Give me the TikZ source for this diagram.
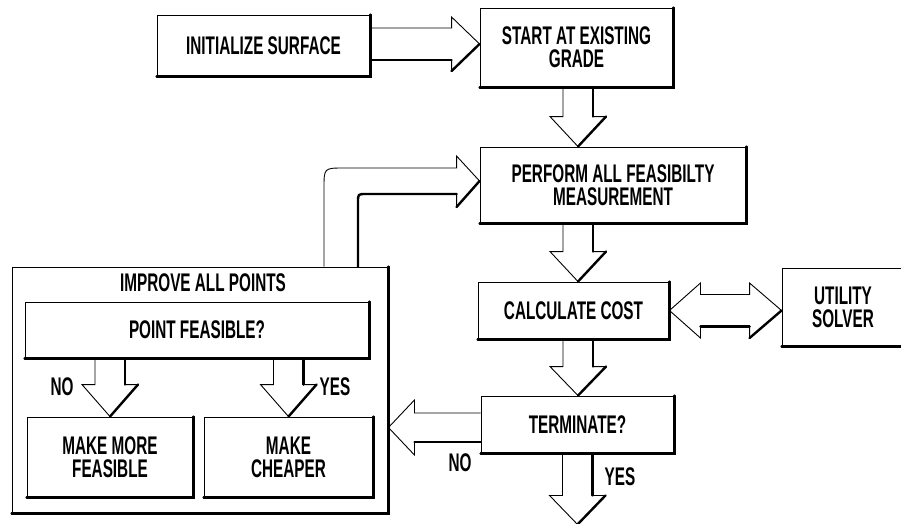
\documentclass[tikz,border=0pt]{standalone}
\usepackage{fontspec}
\setmainfont{Liberation Sans}[FakeStretch=0.6]
\usetikzlibrary{calc}
\tikzset{
  thinl/.style={line width=0.9pt, draw=black, line join=miter},
  heavy/.style={line width=2.4pt, draw=black, line cap=round},
  box/.style={draw=black, line width=0.9pt, align=center, inner sep=0pt},
  lbl/.style={inner sep=0pt}
}
\newcommand{\heavyedge}[1]{\draw[heavy] (#1.north east) -- (#1.south east) -- (#1.south west);}
% down block arrow: #1 top of shaft, #2 tip, #3 head length
\newcommand{\DArrow}[3]{%
  \draw[thinl] ($(#1)+(-15,0)$) -- ($(#2)+(-15,-#3)$) -- ($(#2)+(-28,-#3)$) -- (#2) -- ($(#2)+(28,-#3)$) -- ($(#2)+(15,-#3)$) -- ($(#1)+(15,0)$);
  \draw[heavy] ($(#1)+(15,0)$) -- ($(#2)+(15,-#3)$);
  \draw[heavy] ($(#2)+(28,-#3)$) -- (#2);}
\begin{document}
\begin{tikzpicture}[x=1pt,y=-1pt,font=\fontsize{25.5}{23}\selectfont\bfseries]
\useasboundingbox (0,0) rectangle (901,523);

% nodes
\node[box, minimum width=213, minimum height=61] (init) at (263.5,45.5) {INITIALIZE SURFACE};
\node[box, minimum width=193, minimum height=79] (start) at (576.5,47.5) {START AT EXISTING\\GRADE};
\node[box, minimum width=266, minimum height=76] (perf) at (613,185) {PERFORM ALL FEASIBILTY\\MEASUREMENT};
\node[box, minimum width=191, minimum height=57] (calc) at (573.5,310.5) {CALCULATE COST};
\node[box, minimum width=193, minimum height=57] (term) at (577.5,424.5) {TERMINATE?};
\node[box, minimum width=122, minimum height=78] (util) at (843,307) {UTILITY\\SOLVER};
\node[box, minimum width=376, minimum height=246] (improve) at (200,390) {};
\node[lbl] (imptitle) at (203,283) {IMPROVE ALL POINTS};
\node[box, minimum width=344, minimum height=56] (pf) at (197,330) {POINT FEASIBLE?};
\node[box, minimum width=166, minimum height=80] (mmf) at (110,457) {MAKE MORE\\FEASIBLE};
\node[box, minimum width=169, minimum height=80] (mc) at (288.5,457) {MAKE\\CHEAPER};

\foreach \n in {init,start,perf,calc,term,util,improve,pf,mmf,mc} {\heavyedge{\n}}

% labels
\node[lbl] (no1) at (62,387) {NO};
\node[lbl] (yes1) at (335,387) {YES};
\node[lbl] (no2) at (460,463) {NO};
\node[lbl] (yes2) at (620,477) {YES};

% column coordinate
\coordinate (colx) at (578,0);
\coordinate (endtip) at ($(term.south)+(0,71)$);

% down arrows
\DArrow{colx |- start.south}{colx |- perf.north}{30}
\DArrow{colx |- perf.south}{colx |- calc.north}{30}
\DArrow{colx |- calc.south}{colx |- term.north}{29}
\DArrow{term.south}{endtip}{29}
\DArrow{mmf.north |- pf.south}{mmf.north}{32}
\DArrow{mc.north |- pf.south}{mc.north}{32}

% right arrow init -> start
\coordinate (ra) at ($(init.east)+(0,-1.5)$);
\coordinate (rb) at ($(start.west |- init.east)+(0,-1.5)$);
\draw[thinl] ($(ra)+(0,-16)$) -- ($(rb)+(-28,-16)$) -- ($(rb)+(-28,-27)$) -- (rb) -- ($(rb)+(-28,27)$) -- ($(rb)+(-28,16)$) -- ($(ra)+(0,16)$);
\draw[heavy] ($(ra)+(0,16)$) -- ($(rb)+(-28,16)$);
\draw[heavy] ($(rb)+(-28,27)$) -- (rb);

% left arrow term -> improve
\coordinate (la) at ($(term.west)+(0,3)$);
\coordinate (lb) at ($(improve.east |- term.west)+(0,3)$);
\draw[thinl] ($(la)+(0,-14.5)$) -- ($(lb)+(26,-14.5)$) -- ($(lb)+(26,-27.5)$) -- (lb) -- ($(lb)+(26,27.5)$) -- ($(lb)+(26,14.5)$) -- ($(la)+(0,14.5)$);
\draw[heavy] ($(la)+(0,14.5)$) -- ($(lb)+(26,14.5)$);

% double arrow calc <-> util
\coordinate (dl) at ($(calc.east)+(0,0)$);
\coordinate (dr) at ($(util.west |- calc.east)+(0,0)$);
\draw[thinl] (dl) -- ($(dl)+(31,-27.5)$) -- ($(dl)+(31,-16)$) -- ($(dr)+(-32,-16)$) -- ($(dr)+(-32,-27.5)$) -- (dr) -- ($(dr)+(-32,27.5)$) -- ($(dr)+(-32,16)$) -- ($(dl)+(31,16)$) -- ($(dl)+(31,27.5)$) -- cycle;
\draw[heavy] ($(dl)+(31,16)$) -- ($(dr)+(-32,16)$);
\draw[heavy] ($(dr)+(-32,27.5)$) -- (dr);

% bent arrow improve -> perf
\coordinate (bo) at ($(improve.north)+(124,0)$);
\coordinate (bi) at ($(improve.north)+(158,0)$);
\coordinate (bt) at ($(perf.west)+(0,-4)$);
\draw[thinl] (bo) -- ($(bo |- bt)+(0,7)$) .. controls ($(bo |- bt)+(0,-13)$) .. ($(bo |- bt)+(20,-13)$) -- ($(bt)+(-23,-13)$) -- ($(bt)+(-23,-25)$) -- (bt) -- ($(bt)+(-23,26)$) -- ($(bt)+(-23,13)$);
\draw[heavy] ($(bt)+(-23,13)$) -- ($(bi |- bt)+(8,13)$) .. controls ($(bi |- bt)+(0,13)$) .. ($(bi |- bt)+(0,21)$) -- (bi);
\draw[heavy] ($(bt)+(-23,26)$) -- (bt);
\end{tikzpicture}
\end{document}
